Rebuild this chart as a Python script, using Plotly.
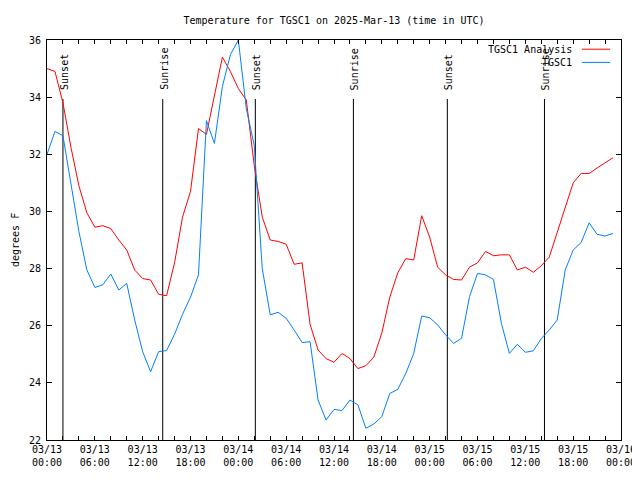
import plotly.graph_objects as go
import pandas as pd

# ---------------- data ----------------
start_time = "2025-03-13 00:00"
n_hours = 72
times = [pd.Timestamp(start_time) + pd.Timedelta(hours=h) for h in range(n_hours)]

analysis_name = "TGSC1 Analysis"
analysis_temps = [
    35.0, 34.9, 33.8, 32.25, 30.9, 29.95, 29.45, 29.5, 29.4, 29.0,
    28.65, 27.95, 27.65, 27.6, 27.1, 27.05, 28.2, 29.8, 30.7, 32.9,
    32.7, 34.0, 35.4, 34.9, 34.3, 33.9, 31.6, 29.8, 29.0, 28.95,
    28.85, 28.15, 28.2, 26.05, 25.15, 24.85, 24.72, 25.03, 24.85, 24.5,
    24.6, 24.9, 25.75, 27.0, 27.85, 28.35, 28.3, 29.85, 29.1, 28.05,
    27.78, 27.62, 27.6, 28.05, 28.2, 28.6, 28.45, 28.48, 28.48, 27.95,
    28.05, 27.87, 28.1, 28.4, 29.25, 30.15, 31.0, 31.33, 31.33, 31.52,
    31.7, 31.88,
]

obs_name = "TGSC1"
obs_temps = [
    32.0, 32.8, 32.65, 31.0, 29.3, 27.95, 27.34, 27.43, 27.81, 27.25,
    27.48, 26.2, 25.09, 24.39, 25.09, 25.13, 25.7, 26.4, 27.0, 27.78,
    33.18, 32.38, 34.37, 35.48, 36.0, 33.6, 32.3, 28.0, 26.38, 26.47,
    26.26, 25.85, 25.41, 25.44, 23.4, 22.7, 23.07, 23.03, 23.4, 23.23,
    22.41, 22.56, 22.82, 23.63, 23.77, 24.33, 25.03, 26.34, 26.28, 26.03,
    25.68, 25.38, 25.56, 27.02, 27.83, 27.78, 27.62, 26.08, 25.03, 25.35,
    25.07, 25.12, 25.55, 25.85, 26.2, 27.95, 28.65, 28.91, 29.6, 29.2,
    29.14, 29.23,
]

sun_labels = ["Sunset", "Sunrise", "Sunset", "Sunrise", "Sunset", "Sunrise"]
sun_times = ["2025-03-13 02:00", "2025-03-13 14:31", "2025-03-14 02:08",
             "2025-03-14 14:26", "2025-03-15 02:13", "2025-03-15 14:24"]

x_range = ["2025-03-13 00:00", "2025-03-16 00:00"]
y_range = [22, 36]

title_text = "Temperature for TGSC1 on 2025-Mar-13 (time in UTC)"
y_title = "degrees F"

# ---------------- styles ----------------
FONT = "DejaVu Sans Mono"
RED = "#ff0000"
BLUE = "#0080ff"

fig = go.Figure()
fig.add_trace(go.Scatter(x=times, y=analysis_temps, mode="lines", name=analysis_name,
                         line=dict(color=RED, width=1), showlegend=False))
fig.add_trace(go.Scatter(x=times, y=obs_temps, mode="lines", name=obs_name,
                         line=dict(color=BLUE, width=1), showlegend=False))

# sunrise / sunset markers
for lab, t in zip(sun_labels, sun_times):
    fig.add_shape(type="line", xref="x", yref="paper", x0=t, x1=t, y0=0, y1=0.8525,
                  line=dict(color="black", width=1), layer="below")
    fig.add_annotation(x=t, xref="x", y=0.87, yref="paper", text=lab, textangle=-90,
                       showarrow=False, xanchor="center", yanchor="bottom", xshift=1,
                       font=dict(family=FONT, size=10, color="black"))

# custom legend (text left of the sample line, gnuplot style)
legend_items = [(analysis_name, RED, 0.977), (obs_name, BLUE, 0.944)]
for name, col, yy in legend_items:
    fig.add_annotation(x=0.918, xref="paper", y=yy, yref="paper", text=name,
                       showarrow=False, xanchor="right", yanchor="middle",
                       font=dict(family=FONT, size=10, color="black"))
    fig.add_shape(type="line", xref="paper", yref="paper", x0=0.932, x1=0.981,
                  y0=yy, y1=yy, line=dict(color=col, width=1))

# y axis title
fig.add_annotation(x=-0.0557, xref="paper", y=0.5, yref="paper", text=y_title,
                   textangle=-90, showarrow=False, xanchor="center", yanchor="middle",
                   font=dict(family=FONT, size=10, color="black"))

fig.update_layout(
    width=640, height=480,
    margin=dict(l=39, r=27, t=32, b=48),
    paper_bgcolor="white", plot_bgcolor="white",
    title=dict(text=title_text, x=(334 - 8) / 640, xanchor="center", y=1 - 12 / 480,
               yref="container", yanchor="middle",
               font=dict(family=FONT, size=10, color="black")),
    font=dict(family=FONT, size=10, color="black"),
)
fig.update_xaxes(
    range=x_range, type="date", dtick=6 * 3600 * 1000, tick0="2025-03-13 00:00",
    tickformat="%m/%d<br>%H:%M", ticks="inside", ticklen=4, tickcolor="black",
    showline=True, linecolor="black", linewidth=1, mirror="ticks",
    showgrid=False, zeroline=False,
    minor=dict(dtick=2 * 3600 * 1000, ticks="inside", ticklen=4, tickcolor="black", showgrid=False),
    tickfont=dict(family=FONT, size=10, color="black"),
)
fig.update_yaxes(
    range=y_range, dtick=2, ticks="inside", ticklen=5, tickcolor="black",
    showline=True, linecolor="black", linewidth=1, mirror="ticks",
    showgrid=False, zeroline=False, ticklabelstandoff=3,
    tickfont=dict(family=FONT, size=10, color="black"),
)

fig.write_html("out.html")
